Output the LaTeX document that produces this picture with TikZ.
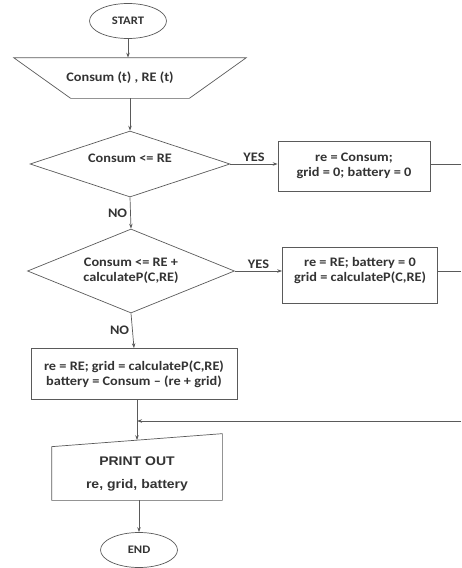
\documentclass[tikz,border=0pt]{standalone}
\usepackage{fontspec}
\setmainfont{Carlito}[FakeStretch=1.1]
\newfontfamily\arialfont{Liberation Sans}[FakeStretch=1.12]
\usetikzlibrary{shapes.geometric,arrows.meta,calc,positioning}
\definecolor{linegray}{HTML}{5A5A5A}
\definecolor{textgray}{HTML}{333333}

\tikzset{
  flow/.style={line width=0.7pt, text=textgray, align=center,
    font=\bfseries\fontsize{13}{15}\selectfont},
  terminal/.style={flow, draw=linegray, ellipse, inner sep=0pt,
    minimum width=77pt, minimum height=35pt, font=\bfseries\fontsize{11.5}{13}\selectfont},
  decision/.style={flow, draw=linegray, diamond, aspect=2.5, inner sep=0pt},
  process/.style={flow, draw=linegray, rectangle, inner sep=2pt},
  arrowline/.style={draw=linegray, line width=0.7pt, -{Stealth[length=5pt,width=3.5pt]}},
  plainline/.style={draw=linegray, line width=0.7pt},
  yesno/.style={text=textgray, font=\bfseries\fontsize{13}{15}\selectfont, inner sep=1pt}
}

\begin{document}
\begin{tikzpicture}[x=1pt,y=-1pt]
  \useasboundingbox (0,0) rectangle (461,568);

  % main column
  \node[terminal] (start) at (128,21) {START};
  \node[flow, minimum width=232pt, minimum height=40pt] (input) at (120,78) {Consum (t) , RE (t)};
  \node[decision, minimum width=200pt, minimum height=66pt] (dec1) at (130,164) {Consum <= RE\\[-3pt]};
  \node[decision, minimum width=207pt, minimum height=84pt] (dec2) at (131,271) {Consum <= RE +\\calculateP(C,RE)};
  \node[process, minimum width=206pt, minimum height=51pt] (act3) at (134,374)
    {re = RE; grid = calculateP(C,RE)\\battery = Consum -- (re + grid)};
  \node[flow, minimum width=170pt, minimum height=52pt] (print) at (137,474)
    {\arialfont\bfseries\fontsize{12.5}{15}\selectfont PRINT OUT\\[8pt]
     \arialfont\bfseries\fontsize{12.5}{15}\selectfont re, grid, battery};
  \node[terminal] (stop) at (139,550) {END};

  % right branches
  \node[process, minimum width=152pt, minimum height=50pt] (act1) at (354,166)
    {re = Consum;\\grid = 0; battery = 0};
  \node[process, minimum width=155pt, minimum height=56pt] (act2) at (360,275)
    {re = RE; battery = 0\\grid = calculateP(C,RE)\\[-4pt]};

  % input and print outlines
  \draw[plainline] ($(input.north west)+(10,0)$) -- ($(input.north east)+(10,0)$)
    -- ($(input.south east)+(-47,0)$) -- ($(input.south west)+(67,0)$) -- cycle;
  \draw[plainline] (print.south west) -- (print.south east)
    -- ($(print.north east)+(0,-14)$) -- ($(print.north west)+(0,-1)$) -- cycle;
  \coordinate (printtop) at ($(print.north)+(0,-7.5)$);

  % loose ends at the right edge
  \coordinate (out1) at (461,164);
  \coordinate (out2) at (461,271);
  \coordinate (loopin) at (461,421);

  % connectors
  \draw[arrowline] (start.south) -- (start.south |- input.north);
  \draw[arrowline] (dec1.north |- input.south) -- (dec1.north);
  \draw[arrowline] (dec1.south) -- node[yesno, left=2pt] {NO} (dec2.north);
  \draw[arrowline] (dec2.south) -- node[yesno, left=2pt] {NO} (act3.north);
  \draw[arrowline] (dec1.east) -- node[yesno, above=1pt] {YES} (dec1.east -| act1.west);
  \draw[arrowline] (dec2.east) -- node[yesno, above=1pt] {YES} (dec2.east -| act2.west);
  \draw[plainline] (act1.east |- out1) -- (out1);
  \draw[plainline] (act2.east |- out2) -- (out2);
  \draw[arrowline] (act3.south -| printtop) -- (printtop);
  \draw[arrowline] (loopin) -- (loopin -| printtop);
  \draw[arrowline] (print.south -| stop.north) -- (stop.north);
\end{tikzpicture}
\end{document}
